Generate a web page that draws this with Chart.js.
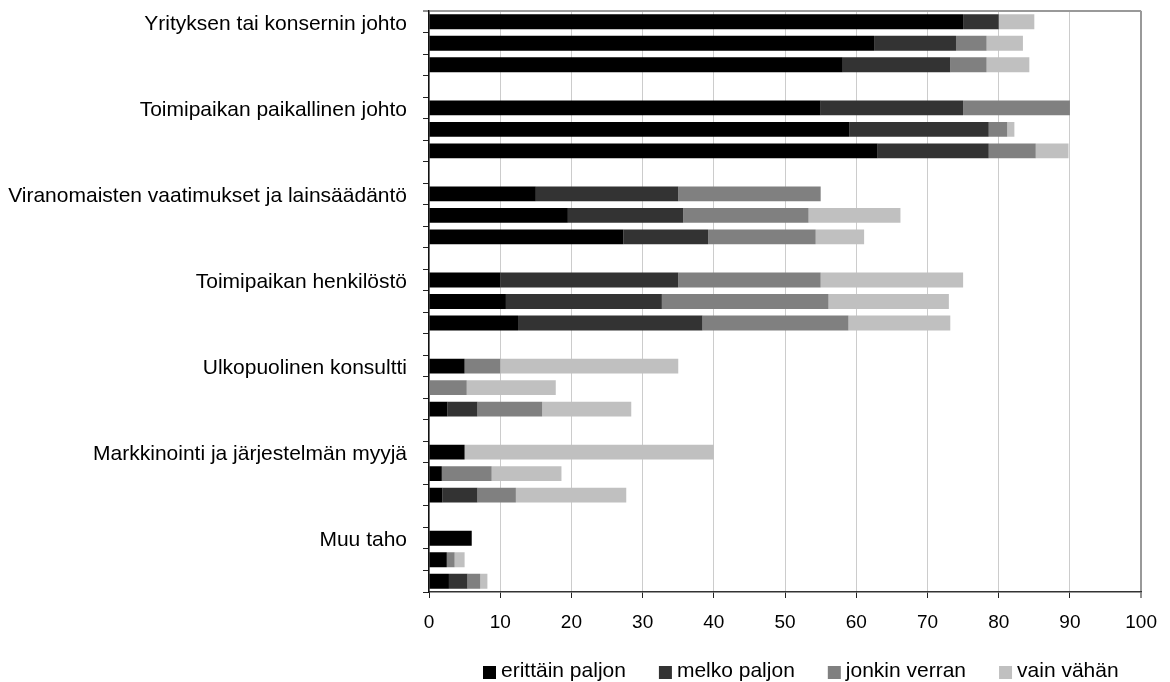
<!DOCTYPE html>
<html>
<head>
<meta charset="utf-8">
<script src="https://cdn.jsdelivr.net/npm/chart.js@4/dist/chart.umd.min.js"></script>
<style>
  html, body { margin: 0; padding: 0; background: #fff; }
  #wrap { width: 1170px; height: 682px; }
</style>
</head>
<body>
<div id="wrap"><canvas id="c" width="1170" height="682"></canvas></div>
<script>
// Groups (each has three bars) and the four answer levels
const groups = [
  'Yrityksen tai konsernin johto',
  'Toimipaikan paikallinen johto',
  'Viranomaisten vaatimukset ja lainsäädäntö',
  'Toimipaikan henkilöstö',
  'Ulkopuolinen konsultti',
  'Markkinointi ja järjestelmän myyjä',
  'Muu taho'
];
const seriesNames = ['erittäin paljon', 'melko paljon', 'jonkin verran', 'vain vähän'];
const seriesColors = ['#000000', '#333333', '#808080', '#c0c0c0'];

// Percentages, three bars per group, in group order
const erittainPaljon = [75, 62.5, 58.1,  55, 59, 63,  15, 19.5, 27.3,  10, 10.8, 12.5,  5, 0, 2.6,  5, 1.8, 1.9,  6, 2.5, 2.8];
const melkoPaljon    = [5, 11.5, 15.1,  20, 19.6, 15.6,  20, 16.2, 11.9,  25, 21.9, 25.9,  0, 0, 4.2,  0, 0, 4.9,  0, 0, 2.6];
const jonkinVerran   = [0, 4.3, 5.1,  15, 2.6, 6.6,  20, 17.6, 15.1,  20, 23.4, 20.5,  5, 5.3, 9.1,  0, 7.0, 5.4,  0, 1.1, 1.8];
const vainVahan      = [5, 5.1, 6.0,  0, 1.0, 4.6,  0, 12.9, 6.8,  20, 16.9, 14.3,  25, 12.5, 12.5,  35, 9.8, 15.5,  0, 1.4, 1.0];

const xTicks = [0, 10, 20, 30, 40, 50, 60, 70, 80, 90, 100];

// Category slots: three bars per group, an empty slot between groups
function buildSlots(values) {
  const out = [];
  groups.forEach((g, gi) => {
    for (let k = 0; k < 3; k++) out.push(values ? values[gi * 3 + k] : (k === 0 ? g : ''));
    if (gi < groups.length - 1) out.push(values ? null : '');
  });
  return out;
}

const labels = buildSlots(null);
const seriesValues = [erittainPaljon, melkoPaljon, jonkinVerran, vainVahan];

const FONT = '"Liberation Sans", Arial, Helvetica, sans-serif';
Chart.defaults.font.family = FONT;
Chart.defaults.color = '#000';

// Legend row under the axis: square key + label, evenly spaced
const legendRow = {
  id: 'legendRow',
  afterDraw(chart) {
    const { ctx, chartArea } = chart;
    ctx.save();
    ctx.font = '21px ' + FONT;
    ctx.textBaseline = 'alphabetic';
    ctx.textAlign = 'left';
    let x = chartArea.left + 54;
    const base = chart.height - 5;
    chart.data.datasets.forEach(ds => {
      ctx.fillStyle = ds.backgroundColor;
      ctx.fillRect(x, base - 11, 13, 13);
      ctx.fillStyle = '#000';
      ctx.fillText(ds.label, x + 18, base);
      x += 18 + ctx.measureText(ds.label).width + 33;
    });
    ctx.restore();
  }
};

new Chart(document.getElementById('c'), {
  type: 'bar',
  data: {
    labels: labels,
    datasets: seriesNames.map((name, i) => ({
      label: name,
      data: buildSlots(seriesValues[i]),
      backgroundColor: seriesColors[i],
      borderWidth: 0,
      barPercentage: 0.69,
      categoryPercentage: 1.0
    }))
  },
  options: {
    indexAxis: 'y',
    responsive: false,
    animation: false,
    devicePixelRatio: 1,
    layout: { padding: { top: 11, right: 24, bottom: 49, left: 0 } },
    plugins: {
      legend: { display: false },
      tooltip: { enabled: false }
    },
    scales: {
      x: {
        stacked: true,
        min: 0,
        max: 100,
        afterBuildTicks(scale) { scale.ticks = xTicks.map(v => ({ value: v })); },
        afterFit(scale) { scale.height = 41; },
        ticks: { font: { size: 19 }, padding: 13, maxRotation: 0, color: '#000' },
        grid: {
          color: c => (c.tick && c.tick.value === 100) ? '#999999' : '#cccccc',
          lineWidth: c => (c.tick && c.tick.value === 100) ? 2 : 1,
          tickColor: '#222',
          tickWidth: 1,
          tickLength: 6
        },
        border: { color: '#333', width: 1.5 }
      },
      y: {
        stacked: true,
        afterFit(scale) {
          scale.width = 429;
          scale.paddingTop = 0;
          scale.paddingBottom = 0;
        },
        ticks: { font: { size: 21 }, padding: 16, autoSkip: false, color: '#000', labelOffset: 2 },
        grid: {
          offset: true,
          color: c => c.index === 0 ? '#999999' : 'rgba(0,0,0,0)',
          lineWidth: c => c.index === 0 ? 2 : 1,
          tickColor: '#222',
          tickWidth: 1,
          tickLength: 6
        },
        border: { color: '#111', width: 1.5 }
      }
    }
  },
  plugins: [legendRow]
});
</script>
</body>
</html>
